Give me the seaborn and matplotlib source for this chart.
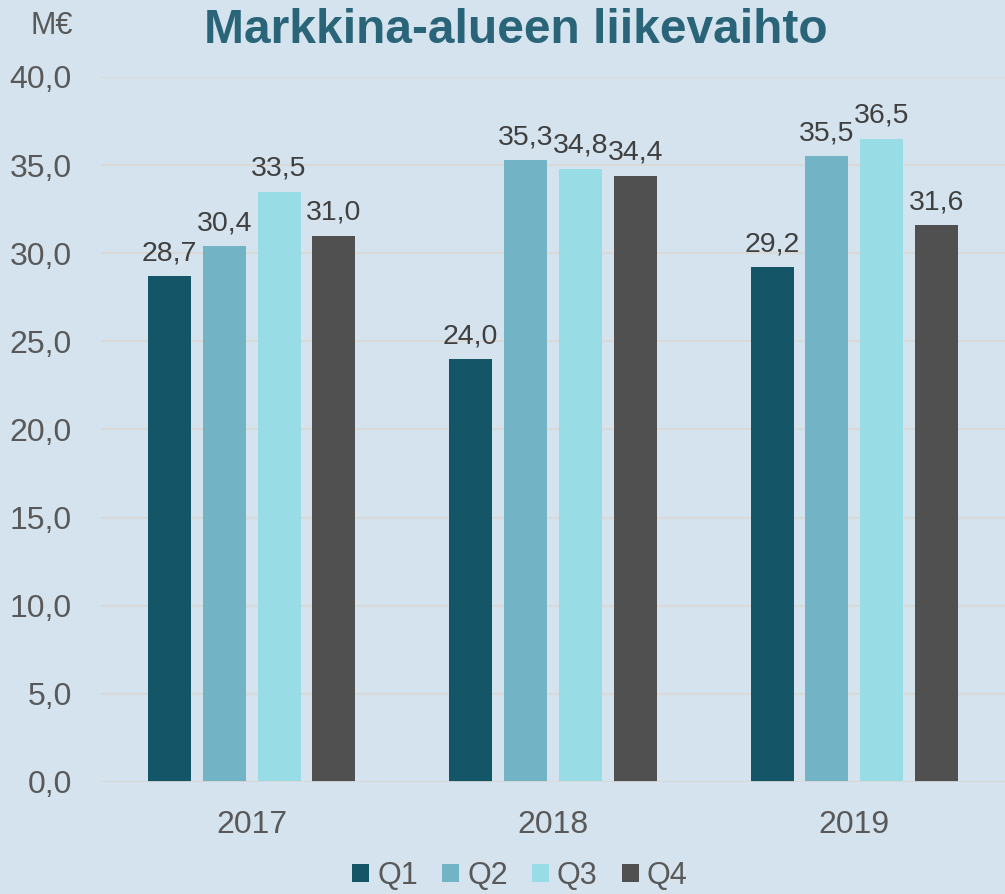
import seaborn as sns
import matplotlib.pyplot as plt
import pandas as pd

# Liikevaihto vuosineljänneksittäin (M€)
vuodet = ['2017', '2018', '2019']
neljannekset = ['Q1', 'Q2', 'Q3', 'Q4']
q1 = [28.7, 24.0, 29.2]
q2 = [30.4, 35.3, 35.5]
q3 = [33.5, 34.8, 36.5]
q4 = [31.0, 34.4, 31.6]
y_ticks = [0, 5, 10, 15, 20, 25, 30, 35, 40]

rows = []
for q, vals in zip(neljannekset, [q1, q2, q3, q4]):
    for v, val in zip(vuodet, vals):
        rows.append({'vuosi': v, 'neljannes': q, 'arvo': val})
df = pd.DataFrame(rows)

bg = '#D4E3ED'
harmaa = '#595959'
varit = ['#155568', '#73B3C6', '#98DCE6', '#505050']

sns.set_style('white')
plt.rcParams['font.family'] = ['Liberation Sans', 'DejaVu Sans']

fig = plt.figure(figsize=(10.05, 8.94), dpi=100, facecolor=bg)
ax = fig.add_axes([0.1005, 0.1253, 0.8995, 0.7886])
ax.set_facecolor(bg)

sns.barplot(data=df, x='vuosi', y='arvo', hue='neljannes', order=vuodet,
            hue_order=neljannekset, palette=varit, width=0.728, gap=0.214,
            saturation=1, linewidth=0, legend=True, ax=ax, zorder=3)

for cont in ax.containers:
    ax.bar_label(cont, labels=[f'{b.get_height():.1f}'.replace('.', ',') for b in cont],
                 padding=7, fontsize=20.5, color='#404040')

ax.set_ylim(0, 40)
ax.set_xlim(-0.5, 2.5)
ax.set_yticks(y_ticks)
ax.set_yticklabels([f'{t:.1f}'.replace('.', ',') for t in y_ticks])
ax.tick_params(axis='y', labelsize=23, colors=harmaa, length=0, pad=21)
ax.tick_params(axis='x', labelsize=23, colors=harmaa, length=0, pad=20)
ax.grid(axis='y', color='#D9D9D9', linewidth=1.5, zorder=0)
ax.set_axisbelow(True)
for s in ax.spines.values():
    s.set_visible(False)
ax.axhline(0, color='#D9D9D9', linewidth=2, zorder=4)
ax.set_xlabel('')
ax.set_ylabel('')

fig.text(0.513, 0.966, 'Markkina-alueen liikevaihto', ha='center', va='center',
         fontsize=34.5, fontweight='bold', color='#2A6478')
fig.text(0.051, 0.971, 'M€', ha='center', va='center', fontsize=22, color=harmaa)

ax.legend(loc='center', bbox_to_anchor=(0.4635, -0.133), ncol=4, frameon=False,
          fontsize=22, labelcolor=harmaa, handlelength=0.55, handleheight=0.55,
          handletextpad=0.26, columnspacing=0.8, borderpad=0)

fig.savefig('out.png', dpi=100, facecolor=bg)
